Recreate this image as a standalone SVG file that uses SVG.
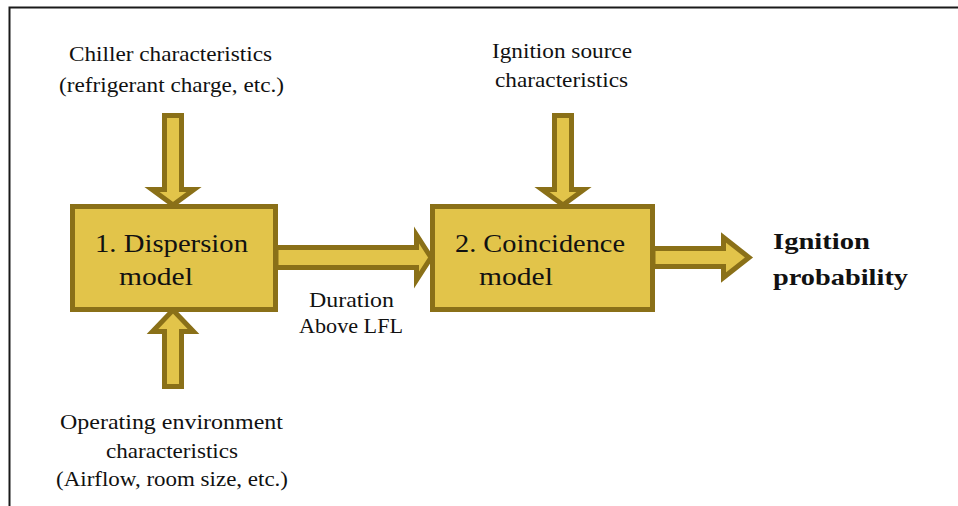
<svg xmlns="http://www.w3.org/2000/svg" width="958" height="506" viewBox="0 0 958 506">
  <style>
    .blk { fill: #E2C44A; stroke: #8A7018; stroke-width: 5; stroke-linejoin: miter; }
    .txt { font-family: "Liberation Serif", "DejaVu Serif", serif; fill: #111; text-anchor: start; }
    .sm { font-size: 21px; }
    .lg { font-size: 25px; }
    .bd { font-size: 23px; font-weight: bold; }
  </style>

  <rect width="958" height="506" fill="#fff"/>
  <!-- frame -->
  <path d="M9.5 506 V7.5 H958" fill="none" stroke="#1a1a1a" stroke-width="2"/>

  <!-- block arrows -->
  <g id="connectors">
    <!-- chiller characteristics -> dispersion model -->
    <polygon class="blk" points="164.5,115.5 181.5,115.5 181.5,189.5 194,189.5 173,205 152,189.5 164.5,189.5"/>
    <!-- operating environment -> dispersion model -->
    <polygon class="blk" points="164.5,386.5 181.5,386.5 181.5,331.5 193.5,331.5 173,310 152.5,331.5 164.5,331.5"/>
    <!-- ignition source -> coincidence model -->
    <polygon class="blk" points="554.5,115.5 571.5,115.5 571.5,189.5 584,189.5 563,205 542,189.5 554.5,189.5"/>
    <!-- dispersion -> coincidence -->
    <polygon class="blk" points="276,247.5 416.5,247.5 416.5,235 431,257.5 416.5,280 416.5,267.5 276,267.5"/>
    <!-- coincidence -> ignition probability -->
    <polygon class="blk" points="653,248.5 723.5,248.5 723.5,237.5 749,257.5 723.5,277.5 723.5,266.5 653,266.5"/>
  </g>

  <g id="dispersion">
    <rect class="blk" x="72.5" y="206.5" width="203" height="103"/>
    <text class="txt lg" x="95" y="252" textLength="153" lengthAdjust="spacingAndGlyphs">1. Dispersion</text>
    <text class="txt lg" x="119" y="285" textLength="74" lengthAdjust="spacingAndGlyphs">model</text>
  </g>

  <g id="coincidence">
    <rect class="blk" x="432.5" y="206.5" width="220" height="103"/>
    <text class="txt lg" x="455" y="252" textLength="170" lengthAdjust="spacingAndGlyphs">2. Coincidence</text>
    <text class="txt lg" x="479" y="285" textLength="74" lengthAdjust="spacingAndGlyphs">model</text>
  </g>

  <g id="chiller">
    <text class="txt sm" x="69" y="61" textLength="203" lengthAdjust="spacingAndGlyphs">Chiller characteristics</text>
    <text class="txt sm" x="59" y="92" textLength="225" lengthAdjust="spacingAndGlyphs">(refrigerant charge, etc.)</text>
  </g>

  <g id="ignition-source">
    <text class="txt sm" x="492" y="58" textLength="140" lengthAdjust="spacingAndGlyphs">Ignition source</text>
    <text class="txt sm" x="495" y="87" textLength="133" lengthAdjust="spacingAndGlyphs">characteristics</text>
  </g>

  <g id="environment">
    <text class="txt sm" x="60" y="429" textLength="223" lengthAdjust="spacingAndGlyphs">Operating environment</text>
    <text class="txt sm" x="106" y="458" textLength="132" lengthAdjust="spacingAndGlyphs">characteristics</text>
    <text class="txt sm" x="56" y="486" textLength="232" lengthAdjust="spacingAndGlyphs">(Airflow, room size, etc.)</text>
  </g>

  <g id="duration-label">
    <text class="txt sm" x="309" y="307" textLength="85" lengthAdjust="spacingAndGlyphs">Duration</text>
    <text class="txt sm" x="299" y="333" textLength="104" lengthAdjust="spacingAndGlyphs">Above LFL</text>
  </g>

  <g id="ignition-probability">
    <text class="txt bd" x="773" y="249" textLength="97" lengthAdjust="spacingAndGlyphs">Ignition</text>
    <text class="txt bd" x="773" y="285" textLength="135" lengthAdjust="spacingAndGlyphs">probability</text>
  </g>
</svg>
